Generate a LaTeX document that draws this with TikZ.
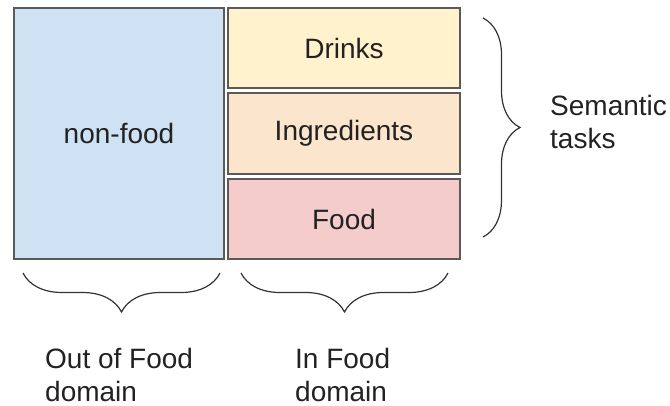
\documentclass[tikz,border=0pt]{standalone}
\usepackage{fontspec}
\setmainfont{Liberation Sans}
\usetikzlibrary{decorations.pathreplacing}
\definecolor{cblue}{HTML}{CFE2F3}
\definecolor{cyellow}{HTML}{FFF2CC}
\definecolor{corange}{HTML}{FCE5CD}
\definecolor{cpink}{HTML}{F4CCCC}
\definecolor{cborder}{HTML}{5A5A5A}
\definecolor{ctext}{HTML}{222222}
\definecolor{cbrace}{HTML}{333333}
\begin{document}
\begin{tikzpicture}[x=1pt,y=-1pt,
  box/.style={draw=cborder,line width=1.2pt,inner sep=0pt,text=ctext,
    font=\fontsize{28}{33}\selectfont},
  lbl/.style={inner sep=0pt,anchor=north west,align=left,text=ctext,
    font=\fontsize{28}{33}\selectfont},
  bracestyle/.style={draw=cbrace,line width=1.2pt,
    decorate,decoration={brace,amplitude=#1,aspect=0.5}}]
\useasboundingbox (0,0) rectangle (670,406);
\node[box,fill=cblue,minimum width=210pt,minimum height=251pt] (nonfood) at (119,133.5) {non-food};
\node[box,fill=cyellow,minimum width=232pt,minimum height=80pt] (drinks) at (344,48) {Drinks};
\node[box,fill=corange,minimum width=232pt,minimum height=81pt] (ingr) at (344,133.5) {Ingredients};
\node[box,fill=cpink,minimum width=232pt,minimum height=80pt] (food) at (344,219) {Food};
\coordinate (rb1) at (483,18);
\coordinate (rb2) at (483,237);
\coordinate (lb1) at (220,273);
\coordinate (lb2) at (23,273);
\coordinate (ib1) at (448,273);
\coordinate (ib2) at (241,273);
\draw[bracestyle=37pt] (rb1) -- (rb2);
\draw[bracestyle=39pt] (lb1) -- (lb2);
\draw[bracestyle=39pt] (ib1) -- (ib2);
\node[lbl] (sem) at (550,95) {Semantic\\tasks};
\node[lbl] (out) at (45,348) {Out of Food\\domain};
\node[lbl] (in) at (295,348) {In Food\\domain};
\end{tikzpicture}
\end{document}
